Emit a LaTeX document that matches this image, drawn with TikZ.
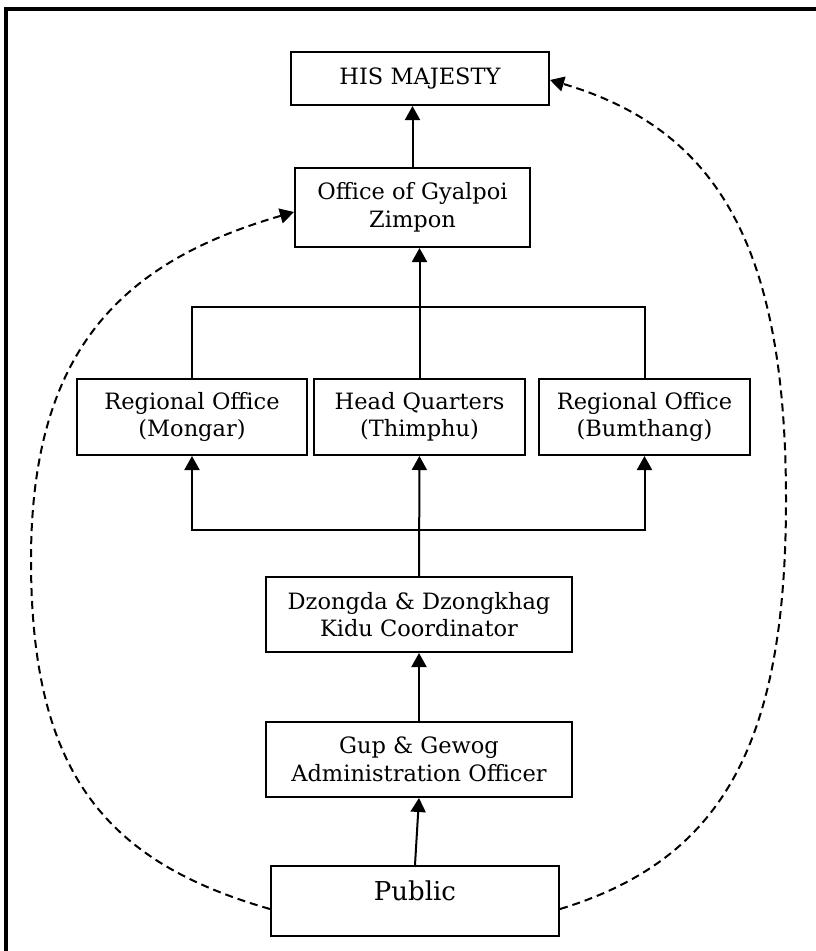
\documentclass[tikz,border=0pt]{standalone}
\usepackage{fontspec}
\setmainfont{DejaVu Serif}
\usetikzlibrary{arrows.meta}

\begin{document}
\begin{tikzpicture}[x=1pt,y=1pt,line width=2pt,
    box/.style={draw,align=center,inner sep=0pt,
      font=\fontsize{22.5}{27.5}\selectfont,minimum height=76pt},
    up/.style={-{Triangle[length=14pt,width=15pt]}},
    feedback/.style={dashed,dash pattern=on 8pt off 5pt,
      -{Triangle[length=14pt,width=15pt]}}]

  % Page and frame
  \useasboundingbox (0,0) rectangle (815,-951);
  \draw[line width=4.5pt] (6,-970) -- (6,-9) -- (830,-9);

  % Draw the boxes
  \node[box,minimum width=258pt,minimum height=53pt] (king) at (420,-78.5) {HIS MAJESTY};
  \node[box,minimum width=235pt,minimum height=79pt] (zimpon) at (412.5,-207.5) {Office of Gyalpoi\\Zimpon};
  \node[box,minimum width=230pt] (mongar) at (192,-417) {Regional Office\\(Mongar)};
  \node[box,minimum width=211pt] (hq) at (419.5,-417) {Head Quarters\\(Thimphu)};
  \node[box,minimum width=211pt] (bumthang) at (644.5,-417) {Regional Office\\(Bumthang)};
  \node[box,minimum width=306pt,minimum height=75pt] (dzongda) at (419,-614.5) {Dzongda \& Dzongkhag\\Kidu Coordinator};
  \node[box,minimum width=306pt,minimum height=75pt] (gup) at (419,-759.5) {Gup \& Gewog\\Administration Officer};
  \node[box,minimum width=288pt,minimum height=70pt,font=\fontsize{26}{30}\selectfont,
    text height=19pt,text depth=21pt] (public) at (415,-901) {Public};

  % Branch points
  \coordinate (join) at (419.5,-307);
  \coordinate (fork) at (419,-530);

  % Draw the reporting lines
  \draw[up] (public.north) -- (gup.south);
  \draw[up] (gup) -- (dzongda);
  \draw[up] (dzongda) -- (hq);
  \draw[up] (fork) -| (mongar.south);
  \draw[up] (fork) -| (bumthang.south);
  \draw (mongar.north) |- (join) -| (bumthang.north);
  \draw[up] (hq.north) -- (hq.north |- zimpon.south);
  \draw[up] (zimpon.north) -- (zimpon.north |- king.south);

  % Draw the direct lines from the public
  \coordinate (lbend) at (31,-560);
  \coordinate (rbend) at (786,-500);
  \draw[feedback] ([yshift=-8pt]public.west) .. controls +(-168,48) and +(0,-209) .. (lbend)
    .. controls +(0,209) and +(-173,-50) .. ([yshift=-4.5pt]zimpon.west);
  \draw[feedback] ([yshift=-8pt]public.east) .. controls +(165,50) and +(0,-240) .. (rbend)
    .. controls +(0,250) and +(170,-50) .. ([yshift=-1.5pt]king.east);

\end{tikzpicture}
\end{document}
